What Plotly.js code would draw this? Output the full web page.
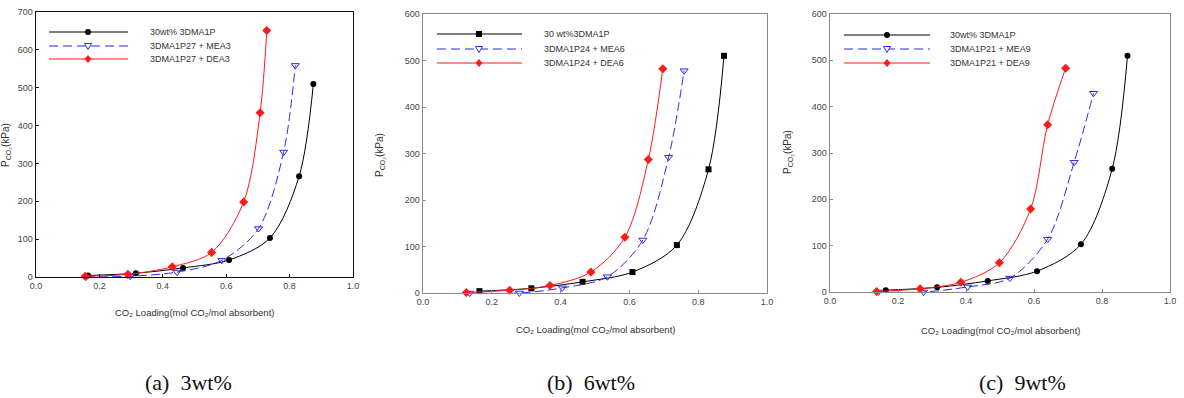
<!DOCTYPE html>
<html>
<head>
<meta charset="utf-8">
<script src="https://cdn.plot.ly/plotly-3.0.1.min.js"></script>
<style>
  html, body { margin: 0; padding: 0; background: #fff; }
  #chart { width: 1184px; height: 398px; }
</style>
</head>
<body>
<div id="chart"></div>
<script>
// CO2 loading (mol CO2 / mol absorbent) and CO2 partial pressure (kPa)
const baseLoading  = [0.164, 0.315, 0.464, 0.609, 0.738, 0.830, 0.875];
const basePressure = [4, 10, 24, 45, 103, 266, 510];

const mea3Loading  = [0.158, 0.297, 0.445, 0.586, 0.702, 0.781, 0.818];
const mea3Pressure = [0, 2, 13, 44, 128, 330, 559];
const dea3Loading  = [0.155, 0.290, 0.430, 0.554, 0.655, 0.707, 0.728];
const dea3Pressure = [2, 7, 27, 65, 198, 434, 651];

const mea6Loading  = [0.136, 0.280, 0.405, 0.536, 0.639, 0.714, 0.759];
const mea6Pressure = [0, 0, 11, 35, 114, 292, 478];
const dea6Loading  = [0.126, 0.252, 0.369, 0.488, 0.587, 0.655, 0.697];
const dea6Pressure = [1, 6, 16, 45, 120, 287, 482];

const mea9Loading  = [0.142, 0.275, 0.405, 0.529, 0.640, 0.718, 0.775];
const mea9Pressure = [0, 0, 11, 30, 114, 280, 429];
const dea9Loading  = [0.137, 0.265, 0.385, 0.498, 0.590, 0.640, 0.693];
const dea9Pressure = [1, 7, 21, 63, 179, 361, 483];

const legendA = ['30wt% 3DMA1P', '3DMA1P27 + MEA3', '3DMA1P27 + DEA3'];
const legendB = ['30 wt%3DMA1P', '3DMA1P24 + MEA6', '3DMA1P24 + DEA6'];
const legendC = ['30wt% 3DMA1P', '3DMA1P21 + MEA9', '3DMA1P21 + DEA9'];
const captions = ['(a)  3wt%', '(b)  6wt%', '(c)  9wt%'];
const xTickVals = [0, 0.2, 0.4, 0.6, 0.8, 1.0];
const xTickText = ['0.0', '0.2', '0.4', '0.6', '0.8', '1.0'];
const xTitle = 'CO₂ Loading(mol CO₂/mol absorbent)';
const yTitle = 'P<sub>CO₂</sub>(kPa)';

const W = 1184, H = 398;
const px = x => x / W;
const py = y => 1 - y / H;

const BLACK = '#000000', BLUE = '#2a2af0', RED = '#ff1a1a';
const sans = 'Liberation Sans, Arial, sans-serif';

// panel frames in pixels: [left, right, top, bottom]
const panels = [
  {box: [36, 353, 12, 277], ymax: 700, frame: '#111', baseSym: 'circle',
   mea: [mea3Loading, mea3Pressure], dea: [dea3Loading, dea3Pressure], names: legendA,
   leg: {x0: 49, x1: 128, xm: 88, xt: 148, rows: [32, 46, 59]},
   ytitle: {x: 6, y: 145}, xtitle: {y: 312}, cap: {x: 188, y: 382}},
  {box: [423, 767, 14, 293], ymax: 600, frame: '#8a8a8a', baseSym: 'square',
   mea: [mea6Loading, mea6Pressure], dea: [dea6Loading, dea6Pressure], names: legendB,
   leg: {x0: 437, x1: 522, xm: 479, xt: 542, rows: [34, 49, 63]},
   ytitle: {x: 380, y: 155}, xtitle: {y: 329}, cap: {x: 591, y: 382}},
  {box: [830, 1170, 14, 292], ymax: 600, frame: '#8a8a8a', baseSym: 'circle',
   mea: [mea9Loading, mea9Pressure], dea: [dea9Loading, dea9Pressure], names: legendC,
   leg: {x0: 844, x1: 930, xm: 887, xt: 948, rows: [35, 49, 63]},
   ytitle: {x: 788, y: 152}, xtitle: {y: 330}, cap: {x: 1022, y: 382}}
];

const traces = [];
const layout = {
  width: W, height: H,
  margin: {l: 0, r: 0, t: 0, b: 0},
  paper_bgcolor: '#fff', plot_bgcolor: '#fff',
  showlegend: false,
  shapes: [], annotations: []
};

panels.forEach((p, i) => {
  const n = i === 0 ? '' : String(i + 1);
  const xa = 'x' + n, ya = 'y' + n;
  const [l, r, t, b] = p.box;

  const axisBase = {
    showline: true, mirror: true, linecolor: p.frame, linewidth: 1.4,
    ticks: 'inside', ticklen: 3, tickwidth: 1, tickcolor: p.frame,
    showgrid: false, zeroline: false,
    tickfont: {family: sans, size: 9, color: '#444'},
    fixedrange: true
  };
  layout['xaxis' + n] = Object.assign({}, axisBase, {
    domain: [px(l), px(r)], anchor: ya, range: [0, 1],
    tickvals: xTickVals, ticktext: xTickText
  });
  layout['yaxis' + n] = Object.assign({}, axisBase, {
    domain: [py(b), py(t)], anchor: xa, range: [0, p.ymax], dtick: 100
  });

  const series = [
    {x: baseLoading, y: basePressure, color: BLACK, dash: 'solid',
     marker: {symbol: p.baseSym, size: 6, color: BLACK}},
    {x: p.mea[0], y: p.mea[1], color: BLUE, dash: '9px,4px',
     marker: {symbol: 'triangle-down-open', size: 7, color: BLUE, line: {width: 1, color: BLUE}}},
    {x: p.dea[0], y: p.dea[1], color: RED, dash: 'solid',
     marker: {symbol: 'diamond', size: 7, color: RED}}
  ];
  series.forEach((s, k) => {
    traces.push({
      type: 'scatter', mode: 'lines+markers', xaxis: xa, yaxis: ya,
      name: p.names[k], x: s.x, y: s.y, cliponaxis: false,
      line: {color: s.color, width: 1, dash: s.dash, shape: 'spline', smoothing: 0.9},
      marker: s.marker
    });
  });

  // legend block: sample line, symbol and label for each series
  const lg = p.leg;
  series.forEach((s, k) => {
    const yr = lg.rows[k];
    layout.shapes.push({
      type: 'line', xref: 'paper', yref: 'paper',
      x0: px(lg.x0), x1: px(lg.x1), y0: py(yr), y1: py(yr),
      line: {color: s.color, width: 1.2, dash: k === 1 ? '9px,5px' : 'solid'}
    });
    const m = lg.xm;
    if (k === 0) {
      layout.shapes.push({type: p.baseSym === 'square' ? 'rect' : 'circle',
        xref: 'paper', yref: 'paper',
        x0: px(m - 3), x1: px(m + 3), y0: py(yr + 3), y1: py(yr - 3),
        fillcolor: BLACK, line: {width: 0}});
    } else if (k === 1) {
      layout.shapes.push({type: 'path', xref: 'paper', yref: 'paper',
        path: `M ${px(m - 3.5)} ${py(yr - 2.5)} L ${px(m + 3.5)} ${py(yr - 2.5)} L ${px(m)} ${py(yr + 3.5)} Z`,
        fillcolor: '#fff', line: {color: BLUE, width: 1}});
    } else {
      layout.shapes.push({type: 'path', xref: 'paper', yref: 'paper',
        path: `M ${px(m)} ${py(yr - 4)} L ${px(m + 3.5)} ${py(yr)} L ${px(m)} ${py(yr + 4)} L ${px(m - 3.5)} ${py(yr)} Z`,
        fillcolor: RED, line: {width: 0}});
    }
    layout.annotations.push({
      xref: 'paper', yref: 'paper', x: px(lg.xt), y: py(yr),
      xanchor: 'left', yanchor: 'middle', showarrow: false,
      text: p.names[k], font: {family: sans, size: 9, color: '#333'}
    });
  });

  // axis titles
  layout.annotations.push({
    xref: 'paper', yref: 'paper', x: px(p.ytitle.x), y: py(p.ytitle.y),
    xanchor: 'center', yanchor: 'middle', showarrow: false, textangle: -90,
    text: yTitle, font: {family: sans, size: 10, color: '#333'}
  });
  layout.annotations.push({
    xref: 'paper', yref: 'paper', x: px((l + r) / 2), y: py(p.xtitle.y),
    xanchor: 'center', yanchor: 'middle', showarrow: false,
    text: xTitle, font: {family: sans, size: 9.5, color: '#333'}
  });
  // panel caption
  layout.annotations.push({
    xref: 'paper', yref: 'paper', x: px(p.cap.x), y: py(p.cap.y),
    xanchor: 'center', yanchor: 'middle', showarrow: false,
    text: captions[i], font: {family: 'Liberation Serif, Times New Roman, serif', size: 22, color: '#111'}
  });
});

Plotly.newPlot('chart', traces, layout, {displayModeBar: false, staticPlot: true});
</script>
</body>
</html>
